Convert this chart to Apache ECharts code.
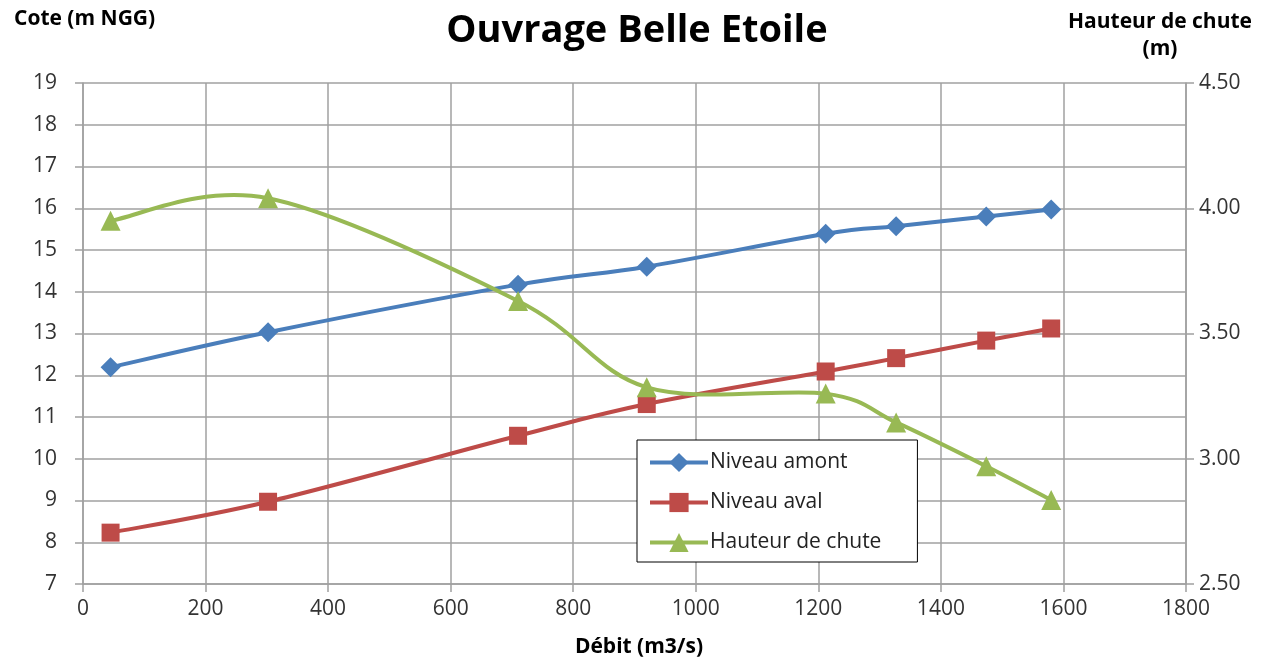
<!DOCTYPE html>
<html>
<head>
<meta charset="utf-8">
<script src="https://cdn.jsdelivr.net/npm/echarts@6/dist/echarts.min.js"></script>
<style>
html,body{margin:0;padding:0;background:#fff;}
#chart{width:1274px;height:659px;}
</style>
</head>
<body>
<div id="chart"></div>
<script>
const debit = [45, 302, 710, 920, 1212, 1327, 1474, 1580];
const niveauAmont = [12.19, 13.03, 14.17, 14.60, 15.39, 15.57, 15.80, 15.97];
const niveauAval = [8.23, 8.97, 10.55, 11.31, 12.09, 12.41, 12.83, 13.12];
const hauteurChute = [3.95, 4.04, 3.63, 3.285, 3.26, 3.145, 2.97, 2.835];
const seriesNames = ['Niveau amont', 'Niveau aval', 'Hauteur de chute'];
const xTicks = [0, 200, 400, 600, 800, 1000, 1200, 1400, 1600, 1800];

const FONT = 'Open Sans';
const COLORS = ['#4a7ebb', '#be4b48', '#98b954'];
const pair = (xs, ys) => xs.map((x, i) => [x, ys[i]]);

// Smoothed path (Excel-like Catmull-Rom Bezier) computed in pixel space via the axes
function smoothRenderer(ys, color) {
  return function (params, api) {
    if (params.dataIndex !== 0) return null;
    const pts = debit.map((x, i) => api.coord([x, ys[i]]));
    const n = pts.length;
    let d = 'M' + pts[0][0] + ' ' + pts[0][1];
    for (let i = 0; i < n - 1; i++) {
      const p0 = pts[Math.max(i - 1, 0)], p1 = pts[i], p2 = pts[i + 1], p3 = pts[Math.min(i + 2, n - 1)];
      const c1 = [p1[0] + (p2[0] - p0[0]) / 6, p1[1] + (p2[1] - p0[1]) / 6];
      const c2 = [p2[0] - (p3[0] - p1[0]) / 6, p2[1] - (p3[1] - p1[1]) / 6];
      d += ' C' + c1[0] + ' ' + c1[1] + ' ' + c2[0] + ' ' + c2[1] + ' ' + p2[0] + ' ' + p2[1];
    }
    return {
      type: 'path',
      shape: {pathData: d},
      style: {fill: null, stroke: color, lineWidth: 4, lineCap: 'round', lineJoin: 'round'},
      silent: true
    };
  };
}

const gridColor = '#a0a0a0';
const chart = echarts.init(document.getElementById('chart'), null, {renderer: 'canvas'});
chart.setOption({
  animation: false,
  backgroundColor: '#fff',
  textStyle: {fontFamily: FONT},
  title: [
    {text: 'Ouvrage Belle Etoile', left: 'center', top: 7,
     textStyle: {fontFamily: FONT, fontSize: 38, fontWeight: 'bold', color: '#000'}},
    {text: 'Cote (m NGG)', left: 9, top: 4,
     textStyle: {fontFamily: FONT, fontSize: 21, fontWeight: 'bold', color: '#000'}},
    {text: 'Hauteur de chute\n(m)', left: 1155, top: 4, textAlign: 'center',
     textStyle: {fontFamily: FONT, fontSize: 21, fontWeight: 'bold', color: '#000', lineHeight: 27, align: 'center'}},
    {text: 'Débit (m3/s)', left: 634, top: 632, textAlign: 'center',
     textStyle: {fontFamily: FONT, fontSize: 21, fontWeight: 'bold', color: '#000'}}
  ],
  grid: {left: 83, right: 88, top: 83, bottom: 75, containLabel: false},
  legend: {
    orient: 'vertical', left: 637, top: 440,
    data: seriesNames.map((n, i) => ({name: n, lineStyle: {color: COLORS[i], width: 4, opacity: 1}})),
    itemWidth: 58, itemHeight: 24, itemGap: 19,
    padding: [12, 36, 9, 11],
    borderColor: '#000', borderWidth: 1, backgroundColor: '#fff',
    textStyle: {fontFamily: FONT, fontSize: 21, color: '#222', padding: [0, 0, 0, -3]}
  },
  xAxis: {
    type: 'value', min: xTicks[0], max: xTicks[xTicks.length - 1], interval: xTicks[1] - xTicks[0],
    axisLine: {show: true, lineStyle: {color: gridColor, width: 1.5}},
    axisTick: {show: true, length: 8, lineStyle: {color: gridColor, width: 1.5}},
    splitLine: {show: true, lineStyle: {color: gridColor, width: 1.5}},
    axisLabel: {fontFamily: FONT, fontSize: 21, color: '#333', margin: 15, formatter: v => String(v)}
  },
  yAxis: [
    {
      type: 'value', min: 7, max: 19, interval: 1,
      axisLine: {show: true, lineStyle: {color: gridColor, width: 1.5}},
      axisTick: {show: true, length: 8, lineStyle: {color: gridColor, width: 1.5}},
      splitLine: {show: true, lineStyle: {color: gridColor, width: 1.5}},
      axisLabel: {fontFamily: FONT, fontSize: 21, color: '#333', margin: 26, formatter: v => String(v)}
    },
    {
      type: 'value', min: 2.5, max: 4.5, interval: 0.5, position: 'right',
      axisLine: {show: true, lineStyle: {color: gridColor, width: 1.5}},
      axisTick: {show: true, length: 8, lineStyle: {color: gridColor, width: 1.5}},
      splitLine: {show: false},
      axisLabel: {fontFamily: FONT, fontSize: 21, color: '#333', margin: 13,
                  formatter: v => v.toFixed(2)}
    }
  ],
  series: [
    {name: 'amont-courbe', type: 'custom', yAxisIndex: 0, data: pair(debit, niveauAmont),
     renderItem: smoothRenderer(niveauAmont, COLORS[0]), z: 2},
    {name: 'aval-courbe', type: 'custom', yAxisIndex: 0, data: pair(debit, niveauAval),
     renderItem: smoothRenderer(niveauAval, COLORS[1]), z: 2},
    {name: 'chute-courbe', type: 'custom', yAxisIndex: 1, data: pair(debit, hauteurChute),
     renderItem: smoothRenderer(hauteurChute, COLORS[2]), z: 2},
    {
      name: seriesNames[0], type: 'line', yAxisIndex: 0,
      data: pair(debit, niveauAmont),
      symbol: 'diamond', symbolSize: 20, showSymbol: true,
      itemStyle: {color: COLORS[0]}, lineStyle: {color: COLORS[0], width: 4, opacity: 0}, z: 3
    },
    {
      name: seriesNames[1], type: 'line', yAxisIndex: 0,
      data: pair(debit, niveauAval),
      symbol: 'rect', symbolSize: 18, showSymbol: true,
      itemStyle: {color: COLORS[1]}, lineStyle: {color: COLORS[1], width: 4, opacity: 0}, z: 3
    },
    {
      name: seriesNames[2], type: 'line', yAxisIndex: 1,
      data: pair(debit, hauteurChute),
      symbol: 'triangle', symbolSize: 20, showSymbol: true,
      itemStyle: {color: COLORS[2]}, lineStyle: {color: COLORS[2], width: 4, opacity: 0}, z: 3
    }
  ]
});
</script>
</body>
</html>
